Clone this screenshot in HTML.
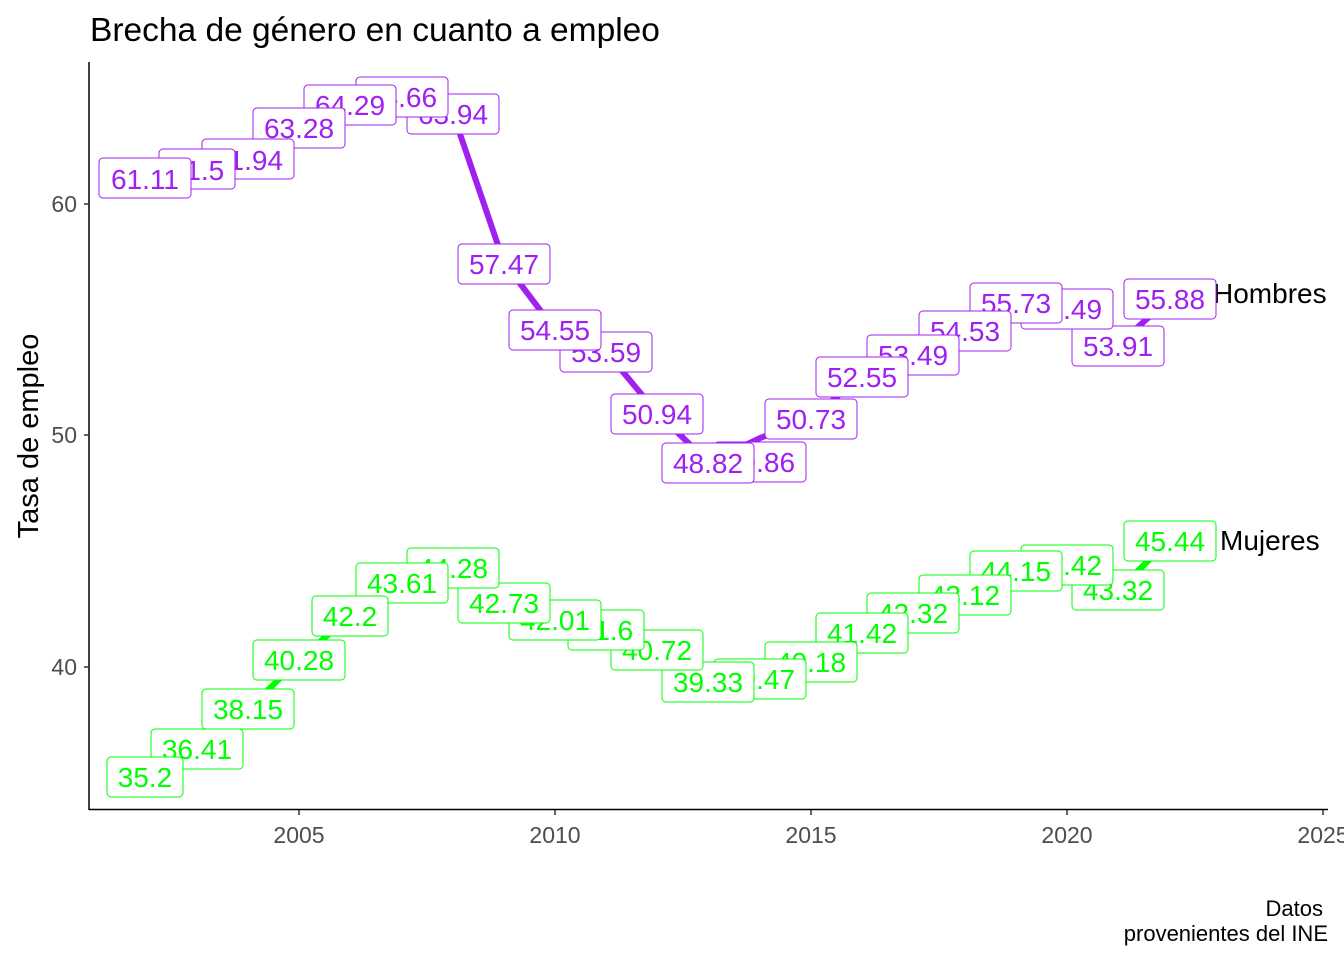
<!DOCTYPE html>
<html><head><meta charset="utf-8"><style>
body{margin:0;background:#fff}
svg{display:block;font-family:"Liberation Sans",Arial,sans-serif}
.h rect{fill:#fff;stroke:#a020f0;stroke-width:1}
.h text{fill:#a020f0;font-size:28px;text-anchor:middle}
.m rect{fill:#fff;stroke:#00ff00;stroke-width:1}
.m text{fill:#00ff00;font-size:28px;text-anchor:middle}
.tk{font-size:23px;fill:#4d4d4d}
</style></head><body>
<svg width="1344" height="960" viewBox="0 0 1344 960">
<text x="90" y="41" font-size="33.5" fill="#000">Brecha de género en cuanto a empleo</text>
<line x1="89" y1="62" x2="89" y2="810" stroke="#000" stroke-width="1.5"/>
<line x1="89" y1="809.5" x2="1328" y2="809.5" stroke="#000" stroke-width="1.5"/>
<g stroke="#333" stroke-width="1.5">
<line x1="84" y1="204" x2="89" y2="204"/><line x1="84" y1="435" x2="89" y2="435"/><line x1="84" y1="667" x2="89" y2="667"/>
<line x1="299" y1="810" x2="299" y2="815"/><line x1="555" y1="810" x2="555" y2="815"/><line x1="811" y1="810" x2="811" y2="815"/><line x1="1067" y1="810" x2="1067" y2="815"/><line x1="1323" y1="810" x2="1323" y2="815"/>
</g>
<g class="tk" text-anchor="end"><text x="77" y="212">60</text><text x="77" y="443">50</text><text x="77" y="675">40</text></g>
<g class="tk" text-anchor="middle"><text x="299" y="843">2005</text><text x="555" y="843">2010</text><text x="811" y="843">2015</text><text x="1067" y="843">2020</text><text x="1323" y="843">2025</text></g>
<text transform="translate(38,436) rotate(-90)" font-size="29" text-anchor="middle">Tasa de empleo</text>
<g font-size="22" text-anchor="end"><text x="1323" y="916">Datos</text><text x="1328" y="941">provenientes del INE</text></g>
<text x="1213" y="303" font-size="28">Hombres</text>
<text x="1220" y="550" font-size="28">Mujeres</text>
<polyline fill="none" stroke="#a020f0" stroke-width="6" stroke-linejoin="round" points="145.4,177.8 196.6,168.8 247.8,158.6 299,127.6 350.2,104.2 401.4,95.6 452.6,112.3 503.8,262.1 555,329.7 606.2,351.9 657.4,413.2 708.6,462.3 759.8,438.2 811,418.1 862.2,376 913.4,354.2 964.6,330.1 1015.8,302.4 1067,307.9 1118.2,344.5 1169.4,298.9"/>
<polyline fill="none" stroke="#00ff00" stroke-width="6" stroke-linejoin="round" points="145.4,782.2 196.6,754.6 247.8,709.3 299,660 350.2,615.6 401.4,582.9 452.6,567.4 503.8,603.3 555,620 606.2,629.5 657.4,649.8 708.6,682 759.8,678.8 811,662.3 862.2,633.6 913.4,612.8 964.6,594.3 1015.8,570.4 1067,564.2 1118.2,589.6 1169.4,540.6"/>
<g class="h">
<rect x="1124" y="279" width="92" height="40" rx="4"/><text x="1170" y="309">55.88</text>
<rect x="1072" y="326" width="92" height="40" rx="4"/><text x="1118" y="356">53.91</text>
<rect x="1021" y="289" width="92" height="40" rx="4"/><text x="1067" y="319">55.49</text>
<rect x="970" y="283" width="92" height="40" rx="4"/><text x="1016" y="313">55.73</text>
<rect x="919" y="311" width="92" height="40" rx="4"/><text x="965" y="341">54.53</text>
<rect x="867" y="335" width="92" height="40" rx="4"/><text x="913" y="365">53.49</text>
<rect x="816" y="357" width="92" height="40" rx="4"/><text x="862" y="387">52.55</text>
<rect x="765" y="399" width="92" height="40" rx="4"/><text x="811" y="429">50.73</text>
<rect x="714" y="442" width="92" height="40" rx="4"/><text x="760" y="472">49.86</text>
<rect x="662" y="443" width="92" height="40" rx="4"/><text x="708" y="473">48.82</text>
<rect x="611" y="394" width="92" height="40" rx="4"/><text x="657" y="424">50.94</text>
<rect x="560" y="332" width="92" height="40" rx="4"/><text x="606" y="362">53.59</text>
<rect x="509" y="310" width="92" height="40" rx="4"/><text x="555" y="340">54.55</text>
<rect x="458" y="244" width="92" height="40" rx="4"/><text x="504" y="274">57.47</text>
<rect x="407" y="94" width="92" height="40" rx="4"/><text x="453" y="124">63.94</text>
<rect x="356" y="77" width="92" height="40" rx="4"/><text x="402" y="107">64.66</text>
<rect x="304" y="85" width="92" height="40" rx="4"/><text x="350" y="115">64.29</text>
<rect x="253" y="108" width="92" height="40" rx="4"/><text x="299" y="138">63.28</text>
<rect x="202" y="139" width="92" height="40" rx="4"/><text x="248" y="170">61.94</text>
<rect x="159" y="149" width="76" height="40" rx="4"/><text x="197" y="180">61.5</text>
<rect x="99" y="158" width="92" height="40" rx="4"/><text x="145" y="189">61.11</text>
</g>
<g class="m">
<rect x="1124" y="521" width="92" height="40" rx="4"/><text x="1170" y="551">45.44</text>
<rect x="1072" y="570" width="92" height="40" rx="4"/><text x="1118" y="600">43.32</text>
<rect x="1021" y="545" width="92" height="40" rx="4"/><text x="1067" y="575">44.42</text>
<rect x="970" y="551" width="92" height="40" rx="4"/><text x="1016" y="581">44.15</text>
<rect x="919" y="575" width="92" height="40" rx="4"/><text x="965" y="605">43.12</text>
<rect x="867" y="593" width="92" height="40" rx="4"/><text x="913" y="623">42.32</text>
<rect x="816" y="613" width="92" height="40" rx="4"/><text x="862" y="643">41.42</text>
<rect x="765" y="642" width="92" height="40" rx="4"/><text x="811" y="672">40.18</text>
<rect x="714" y="659" width="92" height="40" rx="4"/><text x="760" y="689">39.47</text>
<rect x="662" y="662" width="92" height="40" rx="4"/><text x="708" y="692">39.33</text>
<rect x="611" y="630" width="92" height="40" rx="4"/><text x="657" y="660">40.72</text>
<rect x="568" y="610" width="76" height="40" rx="4"/><text x="606" y="640">41.6</text>
<rect x="509" y="600" width="92" height="40" rx="4"/><text x="555" y="630">42.01</text>
<rect x="458" y="583" width="92" height="40" rx="4"/><text x="504" y="613">42.73</text>
<rect x="407" y="548" width="92" height="40" rx="4"/><text x="453" y="578">44.28</text>
<rect x="356" y="563" width="92" height="40" rx="4"/><text x="402" y="593">43.61</text>
<rect x="312" y="596" width="76" height="40" rx="4"/><text x="350" y="626">42.2</text>
<rect x="253" y="640" width="92" height="40" rx="4"/><text x="299" y="670">40.28</text>
<rect x="202" y="689" width="92" height="40" rx="4"/><text x="248" y="719">38.15</text>
<rect x="151" y="729" width="92" height="40" rx="4"/><text x="197" y="759">36.41</text>
<rect x="107" y="757" width="76" height="40" rx="4"/><text x="145" y="787">35.2</text>
</g>
</svg>
</body></html>
